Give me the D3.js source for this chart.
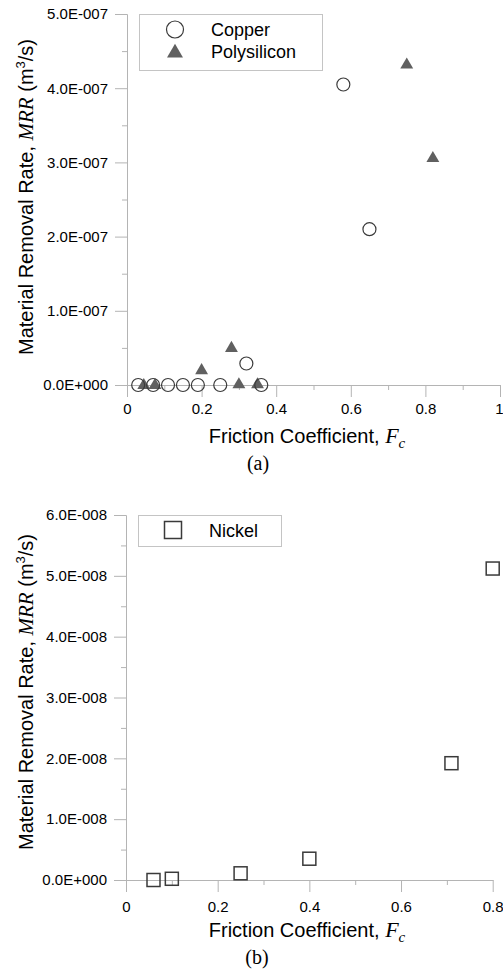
<!DOCTYPE html>
<html>
<head>
<meta charset="utf-8">
<script src="https://cdn.jsdelivr.net/npm/d3@7"></script>
<style>
  body { margin: 0; background: #fff; }
  text { font-family: "Liberation Sans", Arial, sans-serif; fill: #000; }
  .serif { font-family: "Liberation Serif", "Times New Roman", serif; }
</style>
</head>
<body>
<svg id="chart" width="503" height="974"></svg>
<script>
// panel (a) data
var copperX = [0.03, 0.07, 0.11, 0.15, 0.19, 0.25, 0.32, 0.36, 0.58, 0.65];
var copperY = [0, 0, 0, 0, 0, 0, 2.9e-8, 0, 4.05e-7, 2.1e-7];
var polyX = [0.045, 0.075, 0.2, 0.28, 0.3, 0.35, 0.75, 0.82];
var polyY = [2e-9, 2e-9, 2.2e-8, 5.2e-8, 3e-9, 3e-9, 4.34e-7, 3.08e-7];

// panel (b) data
var nickelX = [0.06, 0.1, 0.25, 0.4, 0.71, 0.8];
var nickelY = [0, 2e-10, 1.1e-9, 3.5e-9, 1.92e-8, 5.12e-8];

// ticks
var xTicksA = [0, 0.2, 0.4, 0.6, 0.8, 1];
var xMinorA = [0.1, 0.3, 0.5, 0.7, 0.9];
var yTicksA = [0, 1e-7, 2e-7, 3e-7, 4e-7, 5e-7];
var yMinorA = [0.5e-7, 1.5e-7, 2.5e-7, 3.5e-7, 4.5e-7];
var xTicksB = [0, 0.2, 0.4, 0.6, 0.8];
var xMinorB = [0.1, 0.3, 0.5, 0.7];
var yTicksB = [0, 1e-8, 2e-8, 3e-8, 4e-8, 5e-8, 6e-8];
var yMinorB = [0.5e-8, 1.5e-8, 2.5e-8, 3.5e-8, 4.5e-8, 5.5e-8];

var axisColor = "#b4b4b4";
var markColor = "#3a3a3a";
var triColor = "#606060";

var svg = d3.select("#chart");
svg.append("rect").attr("width", 503).attr("height", 974).attr("fill", "#fff");

function sciFmt(v) {
    if (v === 0) return "0.0E+000";
    var e = Math.floor(Math.log10(v) + 1e-9);
    var m = v / Math.pow(10, e);
    var s = e < 0 ? "-" : "+";
    return m.toFixed(1) + "E" + s + String(Math.abs(e)).padStart(3, "0");
}

function drawAxes(x, y, xt, xm, yt, ym, xPad) {
    var g = svg.append("g");
    var x0 = "translate(0," + y.range()[0] + ")";
    var y0 = "translate(" + x.range()[0] + ",0)";
    // minor ticks in their own groups so the major call does not drop them
    g.append("g").attr("transform", x0)
        .call(d3.axisBottom(x).tickValues(xm).tickSize(5).tickSizeOuter(0).tickFormat(""));
    g.append("g").attr("transform", y0)
        .call(d3.axisLeft(y).tickValues(ym).tickSize(5).tickSizeOuter(0).tickFormat(""));
    var xa = g.append("g").attr("transform", x0)
        .call(d3.axisBottom(x).tickValues(xt).tickSize(12).tickSizeOuter(0).tickPadding(xPad)
            .tickFormat(d3.format("~g")));
    g.append("g").attr("transform", y0)
        .call(d3.axisLeft(y).tickValues(yt).tickSize(12).tickSizeOuter(0).tickPadding(7)
            .tickFormat(sciFmt));
    g.selectAll("g").attr("font-size", 15).attr("font-family", "'Liberation Sans', Arial, sans-serif");
    g.selectAll("path.domain, line").attr("stroke", axisColor).attr("stroke-width", 1);
    g.selectAll("text").attr("font-size", 15).style("font-size", "15px").attr("fill", "#000");
    return xa;
}

function yTitle(cx, cy) {
    var t = svg.append("text")
        .attr("transform", "rotate(-90)")
        .attr("x", -cy).attr("y", cx)
        .attr("text-anchor", "middle")
        .style("font-size", "20px");
    t.append("tspan").text("Material Removal Rate, ");
    t.append("tspan").attr("class", "serif").style("font-style", "italic").style("font-size", "21px").text("MRR");
    t.append("tspan").text(" (m");
    t.append("tspan").style("font-size", "13px").attr("dy", -8).text("3");
    t.append("tspan").attr("dy", 8).text("/s)");
}

function xTitle(cx, by) {
    var t = svg.append("text")
        .attr("x", cx).attr("y", by)
        .attr("text-anchor", "middle")
        .style("font-size", "20px");
    t.append("tspan").text("Friction Coefficient, ");
    t.append("tspan").attr("class", "serif").style("font-style", "italic").style("font-size", "22px").text("F");
    t.append("tspan").attr("class", "serif").style("font-style", "italic").style("font-size", "15px")
        .attr("dy", 5).text("c");
}

// ---------- panel (a) ----------
var xA = d3.scaleLinear().domain([0, 1]).range([127, 500]);
var yA = d3.scaleLinear().domain([0, 5e-7]).range([385, 14]);
var xaA = drawAxes(xA, yA, xTicksA, xMinorA, yTicksA, yMinorA, 6);
// last label sits right at the page edge, keep it inside
xaA.selectAll(".tick text").filter(function(d) { return d === 1; })
    .attr("text-anchor", "end").attr("x", 3);

var triSize = 72;
var triShift = Math.sqrt(triSize / (Math.sqrt(3) * 3)) / 2; // centre the triangle's box on the value
var tri = d3.symbol().type(d3.symbolTriangle).size(triSize);
svg.append("g").selectAll("path")
    .data(d3.zip(polyX, polyY))
    .enter().append("path")
    .attr("d", tri)
    .attr("transform", function(d) { return "translate(" + xA(d[0]) + "," + (yA(d[1]) + triShift) + ")"; })
    .attr("fill", triColor);

svg.append("g").selectAll("circle")
    .data(d3.zip(copperX, copperY))
    .enter().append("circle")
    .attr("cx", function(d) { return xA(d[0]); })
    .attr("cy", function(d) { return yA(d[1]); })
    .attr("r", 6.5)
    .attr("fill", "none")
    .attr("stroke", markColor)
    .attr("stroke-width", 1.2);

// legend (a)
var legA = svg.append("g");
legA.append("rect").attr("x", 139.5).attr("y", 14.5).attr("width", 183).attr("height", 56)
    .attr("fill", "#fff").attr("stroke", "#c4c4c4");
legA.append("circle").attr("cx", 175).attr("cy", 29.5).attr("r", 8.5)
    .attr("fill", "none").attr("stroke", markColor).attr("stroke-width", 1.2);
legA.append("path").attr("d", d3.symbol().type(d3.symbolTriangle).size(110))
    .attr("transform", "translate(175,53)").attr("fill", triColor);
legA.append("text").attr("x", 211).attr("y", 29.5).attr("dy", "0.35em").style("font-size", "18px").text("Copper");
legA.append("text").attr("x", 211).attr("y", 52).attr("dy", "0.35em").style("font-size", "18px").text("Polysilicon");

yTitle(33, 197);
xTitle(307, 443);
svg.append("text").attr("class", "serif").attr("x", 258).attr("y", 470)
    .attr("text-anchor", "middle").style("font-size", "20px").text("(a)");

// ---------- panel (b) ----------
var xB = d3.scaleLinear().domain([0, 0.8]).range([126, 492.7]);
var yB = d3.scaleLinear().domain([0, 6e-8]).range([880, 515]);
drawAxes(xB, yB, xTicksB, xMinorB, yTicksB, yMinorB, 9);

var sq = 13;
svg.append("g").selectAll("rect")
    .data(d3.zip(nickelX, nickelY))
    .enter().append("rect")
    .attr("x", function(d) { return xB(d[0]) - sq / 2; })
    .attr("y", function(d) { return yB(d[1]) - sq / 2; })
    .attr("width", sq).attr("height", sq)
    .attr("fill", "none")
    .attr("stroke", markColor)
    .attr("stroke-width", 1.5);

// legend (b)
var legB = svg.append("g");
legB.append("rect").attr("x", 138.5).attr("y", 515.5).attr("width", 143).attr("height", 31)
    .attr("fill", "#fff").attr("stroke", "#c4c4c4");
legB.append("rect").attr("x", 164.5).attr("y", 521.5).attr("width", 17).attr("height", 17)
    .attr("fill", "none").attr("stroke", markColor).attr("stroke-width", 1.5);
legB.append("text").attr("x", 209).attr("y", 530.5).attr("dy", "0.35em").style("font-size", "18px").text("Nickel");

yTitle(33, 692);
xTitle(307, 937);
svg.append("text").attr("class", "serif").attr("x", 257).attr("y", 964)
    .attr("text-anchor", "middle").style("font-size", "20px").text("(b)");
</script>
</body>
</html>
